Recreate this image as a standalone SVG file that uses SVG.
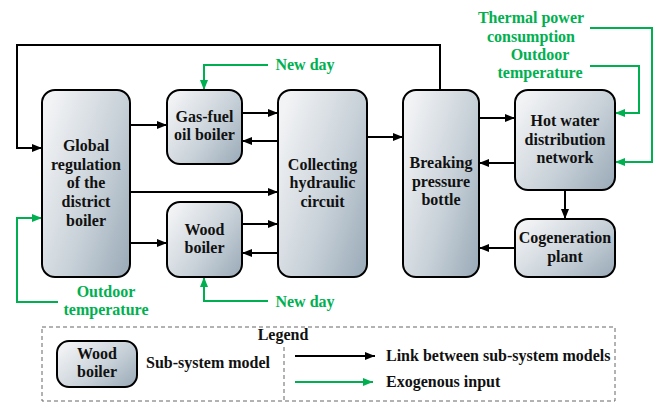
<svg xmlns="http://www.w3.org/2000/svg" width="664" height="403" viewBox="0 0 664 403">
<defs>
<linearGradient id="g" x1="0" y1="0.2" x2="1" y2="0.9">
<stop offset="0" stop-color="#f2f3f5"/>
<stop offset="0.55" stop-color="#c9d2d9"/>
<stop offset="1" stop-color="#9dadba"/>
</linearGradient>
<marker id="ab" viewBox="0 0 10 8" refX="10" refY="4" markerWidth="10" markerHeight="8" markerUnits="userSpaceOnUse" orient="auto"><path d="M0,0 L10,4 L0,8 Z" fill="#000"/></marker>
<marker id="ag" viewBox="0 0 10 8" refX="10" refY="4" markerWidth="10" markerHeight="8" markerUnits="userSpaceOnUse" orient="auto"><path d="M0,0 L10,4 L0,8 Z" fill="#00b050"/></marker>
</defs>
<style>
.n{fill:url(#g);stroke:#000;stroke-width:2}
text{font-family:'Liberation Serif','Times New Roman',Tinos,'DejaVu Serif',serif;font-weight:bold;font-size:16px}
.t{fill:#111;text-anchor:middle}
.tg{fill:#00b050;text-anchor:middle}
.tl{fill:#111}
.b{fill:none;stroke:#000;stroke-width:2;marker-end:url(#ab)}
.gr{fill:none;stroke:#00b050;stroke-width:2;marker-end:url(#ag)}
.d{fill:none;stroke:#666;stroke-width:1;stroke-dasharray:4 3}
</style>
<rect width="664" height="403" fill="#fff"/>
<g id="connectors">
<path class="b" d="M440,90 V45 H17 V148 H42"/>
<path class="b" d="M130,125 H167"/>
<path class="b" d="M242,113 H278"/>
<path class="b" d="M278,141 H242"/>
<path class="b" d="M130,192 H278"/>
<path class="b" d="M130,243 H167"/>
<path class="b" d="M242,224 H278"/>
<path class="b" d="M278,253 H242"/>
<path class="b" d="M367,137 H403"/>
<path class="b" d="M479,118 H515"/>
<path class="b" d="M515,163 H479"/>
<path class="b" d="M565,190 V219"/>
<path class="b" d="M515,248 H479"/>
<path class="gr" d="M268,65 H204 V90"/>
<path class="gr" d="M268,301 H204 V277"/>
<path class="gr" d="M58,302 H17 V218 H42"/>
<path class="gr" d="M590,28 H652 V162 H615"/>
<path class="gr" d="M590,66 H639 V113 H615"/>
</g>
<g id="global">
<rect class="n" x="42" y="90" width="88" height="187" rx="13"/>
<text class="t" x="86" y="151">Global</text>
<text class="t" x="86" y="170">regulation</text>
<text class="t" x="86" y="188">of the</text>
<text class="t" x="86" y="207">district</text>
<text class="t" x="86" y="226">boiler</text>
</g>
<g id="gasfuel">
<rect class="n" x="167" y="90" width="75" height="74" rx="13"/>
<text class="t" x="204.5" y="122">Gas-fuel</text>
<text class="t" x="204.5" y="140">oil boiler</text>
</g>
<g id="wood">
<rect class="n" x="167" y="202" width="75" height="75" rx="13"/>
<text class="t" x="204.5" y="235">Wood</text>
<text class="t" x="204.5" y="253">boiler</text>
</g>
<g id="collecting">
<rect class="n" x="278" y="90" width="89" height="187" rx="13"/>
<text class="t" x="322.5" y="170">Collecting</text>
<text class="t" x="322.5" y="188">hydraulic</text>
<text class="t" x="322.5" y="207">circuit</text>
</g>
<g id="breaking">
<rect class="n" x="403" y="90" width="76" height="187" rx="13"/>
<text class="t" x="441" y="168">Breaking</text>
<text class="t" x="441" y="187">pressure</text>
<text class="t" x="441" y="205">bottle</text>
</g>
<g id="hotwater">
<rect class="n" x="515" y="90" width="100" height="100" rx="13"/>
<text class="t" x="565" y="126">Hot water</text>
<text class="t" x="565" y="145">distribution</text>
<text class="t" x="565" y="163">network</text>
</g>
<g id="cogeneration">
<rect class="n" x="515" y="219" width="100" height="58" rx="13"/>
<text class="t" x="565" y="243">Cogeneration</text>
<text class="t" x="565" y="262">plant</text>
</g>
<g id="labels">
<text class="tg" x="305" y="70">New day</text>
<text class="tg" x="305" y="307">New day</text>
<text class="tg" x="106" y="297">Outdoor</text>
<text class="tg" x="106" y="315">temperature</text>
<text class="tg" x="531" y="23">Thermal power</text>
<text class="tg" x="531" y="42">consumption</text>
<text class="tg" x="540" y="60">Outdoor</text>
<text class="tg" x="540" y="78">temperature</text>
</g>
<g id="legend">
<rect class="d" x="42" y="327" width="573" height="74"/>
<path class="d" d="M284,347 V401"/>
<text class="t" x="283" y="340">Legend</text>
<rect class="n" x="57" y="341" width="80" height="46" rx="12"/>
<text class="t" x="97" y="359">Wood</text>
<text class="t" x="97" y="377">boiler</text>
<text class="tl" x="146" y="368">Sub-system model</text>
<path class="b" d="M295,356 H375"/>
<text class="tl" x="386" y="361">Link between sub-system models</text>
<path class="gr" d="M295,382 H373"/>
<text class="tl" x="386" y="387">Exogenous input</text>
</g>
</svg>
